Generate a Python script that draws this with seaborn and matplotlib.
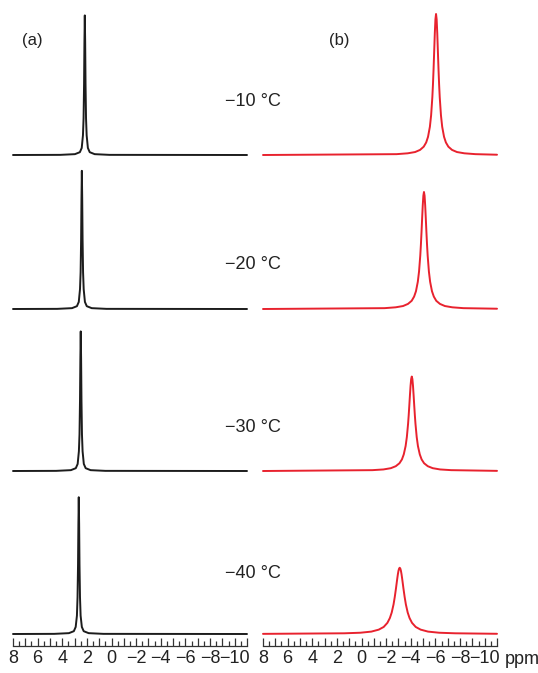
import matplotlib
matplotlib.use('Agg')
import matplotlib.pyplot as plt
from matplotlib.ticker import MultipleLocator, FuncFormatter
import seaborn as sns

# temperatures (one spectrum per row, top to bottom)
temps = ['\u221210 \u00b0C', '\u221220 \u00b0C', '\u221230 \u00b0C', '\u221240 \u00b0C']
panel_labels = ['(a)', '(b)']

# (a) black spectra: chemical shift (ppm) and relative intensity
a10_ppm = [8, 4.17, 2.97, 2.57, 2.42, 2.32, 2.27, 2.23, 2.20, 2.17, 2.14, 2.11, 2.07, 2.02, 1.92, 1.77, 1.37, 0.17, -11]
a10_int = [0, 0.001, 0.006, 0.02, 0.05, 0.14, 0.26, 0.5, 0.8, 0.99, 0.8, 0.5, 0.26, 0.14, 0.05, 0.02, 0.006, 0.001, 0]
a20_ppm = [8, 4.41, 3.21, 2.81, 2.66, 2.56, 2.51, 2.47, 2.44, 2.41, 2.38, 2.35, 2.31, 2.26, 2.16, 2.01, 1.61, 0.41, -11]
a20_int = [0, 0.001, 0.006, 0.02, 0.05, 0.14, 0.26, 0.49, 0.78, 0.98, 0.78, 0.49, 0.26, 0.14, 0.05, 0.02, 0.006, 0.001, 0]
a30_ppm = [8, 4.50, 3.30, 2.90, 2.75, 2.65, 2.60, 2.56, 2.53, 2.50, 2.47, 2.44, 2.40, 2.35, 2.25, 2.10, 1.70, 0.50, -11]
a30_int = [0, 0.001, 0.006, 0.02, 0.05, 0.14, 0.26, 0.5, 0.8, 0.99, 0.8, 0.5, 0.26, 0.14, 0.05, 0.02, 0.006, 0.001, 0]
a40_ppm = [8, 4.66, 3.46, 3.06, 2.91, 2.81, 2.76, 2.72, 2.69, 2.66, 2.63, 2.60, 2.56, 2.51, 2.41, 2.26, 1.86, 0.66, -11]
a40_int = [0, 0.001, 0.006, 0.02, 0.05, 0.13, 0.26, 0.49, 0.78, 0.97, 0.78, 0.49, 0.26, 0.13, 0.05, 0.02, 0.006, 0.001, 0]

# (b) red spectra
b10_ppm = [8, -2.85, -3.75, -4.35, -4.75, -5.05, -5.25, -5.40, -5.55, -5.65, -5.75, -5.80, -5.85, -5.90, -5.95, -6.00,
           -6.05,
           -6.10, -6.15, -6.20, -6.25, -6.30, -6.35, -6.45, -6.55, -6.70, -6.85, -7.05, -7.35, -7.75, -8.35, -9.25, -11]
b10_int = [0, 0.006, 0.012, 0.021, 0.036, 0.059, 0.089, 0.129, 0.2, 0.281, 0.41, 0.5, 0.61, 0.735, 0.862, 0.962,
           1.0,
           0.962, 0.862, 0.735, 0.61, 0.5, 0.41, 0.281, 0.2, 0.129, 0.089, 0.059, 0.036, 0.021, 0.012, 0.006, 0.002]
b20_ppm = [8, -1.87, -2.77, -3.37, -3.77, -4.07, -4.27, -4.42, -4.57, -4.67, -4.77, -4.82, -4.87, -4.92, -4.97, -5.02,
           -5.07,
           -5.12, -5.17, -5.22, -5.27, -5.32, -5.37, -5.47, -5.57, -5.72, -5.87, -6.07, -6.37, -6.77, -7.37, -8.27, -11]
b20_int = [0, 0.006, 0.012, 0.021, 0.036, 0.058, 0.088, 0.126, 0.193, 0.266, 0.379, 0.455, 0.543, 0.640, 0.733, 0.803,
           0.83,
           0.803, 0.733, 0.640, 0.543, 0.455, 0.379, 0.266, 0.193, 0.126, 0.088, 0.058, 0.036, 0.021, 0.012, 0.006, 0.002]
b30_ppm = [8, -0.88, -1.78, -2.38, -2.78, -3.08, -3.28, -3.43, -3.58, -3.68, -3.78, -3.83, -3.88, -3.93, -3.98, -4.03,
           -4.08,
           -4.13, -4.18, -4.23, -4.28, -4.33, -4.38, -4.48, -4.58, -4.73, -4.88, -5.08, -5.38, -5.78, -6.38, -7.28, -11]
b30_int = [0, 0.006, 0.011, 0.020, 0.034, 0.055, 0.082, 0.118, 0.177, 0.241, 0.335, 0.395, 0.464, 0.536, 0.603, 0.652,
           0.67,
           0.652, 0.603, 0.536, 0.464, 0.395, 0.335, 0.241, 0.177, 0.118, 0.082, 0.055, 0.034, 0.020, 0.011, 0.006, 0.001]
b40_ppm = [8, 1.4, 0.1, -0.8, -1.4, -1.8, -2.1, -2.3, -2.45, -2.6, -2.7, -2.8, -2.85, -2.9, -2.95, -3.0, -3.05,
           -3.1,
           -3.15, -3.2, -3.25, -3.3, -3.35, -3.4, -3.5, -3.6, -3.75, -3.9, -4.1, -4.4, -4.8, -5.4, -6.3, -7.6, -11]
b40_int = [0.001, 0.005, 0.009, 0.017, 0.031, 0.050, 0.079, 0.113, 0.152, 0.210, 0.263, 0.325, 0.359, 0.392, 0.423,
           0.448, 0.464,
           0.47,
           0.464, 0.448, 0.423, 0.392, 0.359, 0.325, 0.263, 0.210, 0.152, 0.113, 0.079, 0.050, 0.031, 0.017, 0.009,
           0.005, 0.0015]

tick_values = list(range(8, -11, -2))

spectra = {
    'a': [(a10_ppm, a10_int), (a20_ppm, a20_int), (a30_ppm, a30_int), (a40_ppm, a40_int)],
    'b': [(b10_ppm, b10_int), (b20_ppm, b20_int), (b30_ppm, b30_int), (b40_ppm, b40_int)],
}
colors = {'a': '#1c1c1c', 'b': '#e8222e'}

sns.set_style('white')
plt.rcParams['font.family'] = ['Liberation Sans', 'DejaVu Sans']
plt.rcParams['axes.unicode_minus'] = True

W, H = 538, 673
fig = plt.figure(figsize=(W / 100, H / 100), dpi=100)

# layout in pixels
col_left = {'a': 13, 'b': 263}
col_width = 234
baselines = [155, 309, 471, 634]
below = 12          # spine sits this far under the baseline of the last row
ax_h = 165
unit = 141          # pixels per 1.0 intensity


def ppm_label(v, pos):
    n = int(round(v))
    if n in tick_values and abs(v - n) < 1e-6:
        return f'{n}'.replace('-', '\u2212')
    return ''


for key in ['a', 'b']:
    for i, (ppm, inten) in enumerate(spectra[key]):
        bottom_px = baselines[i] + below
        ax = fig.add_axes([col_left[key] / W, 1 - bottom_px / H, col_width / W, ax_h / H])
        ax.patch.set_alpha(0)
        sns.lineplot(x=ppm, y=inten, ax=ax, color=colors[key], linewidth=1.4,
                     sort=False, clip_on=False)
        ax.set_xlim(8, -11)
        ax.set_ylim(-below / unit, (ax_h - below) / unit)
        for s in ['top', 'left', 'right']:
            ax.spines[s].set_visible(False)
        ax.set_yticks([])
        ax.set_xlabel('')
        ax.set_ylabel('')
        if i < 3:
            ax.spines['bottom'].set_visible(False)
            ax.set_xticks([])
        else:
            ax.spines['bottom'].set_color('#333333')
            ax.spines['bottom'].set_linewidth(0.9)
            ax.xaxis.set_major_locator(MultipleLocator(1))
            ax.xaxis.set_minor_locator(MultipleLocator(0.5))
            ax.xaxis.set_major_formatter(FuncFormatter(ppm_label))
            ax.tick_params(axis='x', which='major', direction='in', length=6, width=0.9,
                           color='#333333', labelsize=13, labelcolor='#222222', pad=3, bottom=True)
            ax.tick_params(axis='x', which='minor', direction='in', length=3.5, width=0.9,
                           color='#333333', bottom=True)

# panel letters and temperatures
fig.text(32 / W, 1 - 40 / H, panel_labels[0], ha='center', va='center', fontsize=12, color='#222222')
fig.text(339 / W, 1 - 40 / H, panel_labels[1], ha='center', va='center', fontsize=12, color='#222222')
for t, ypx in zip(temps, [101, 265, 428, 574]):
    fig.text(253 / W, 1 - ypx / H, t, ha='center', va='center', fontsize=13, color='#222222')
fig.text(522 / W, 1 - 660 / H, 'ppm', ha='center', va='center', fontsize=13, color='#222222')

fig.savefig('out.png', dpi=100)
